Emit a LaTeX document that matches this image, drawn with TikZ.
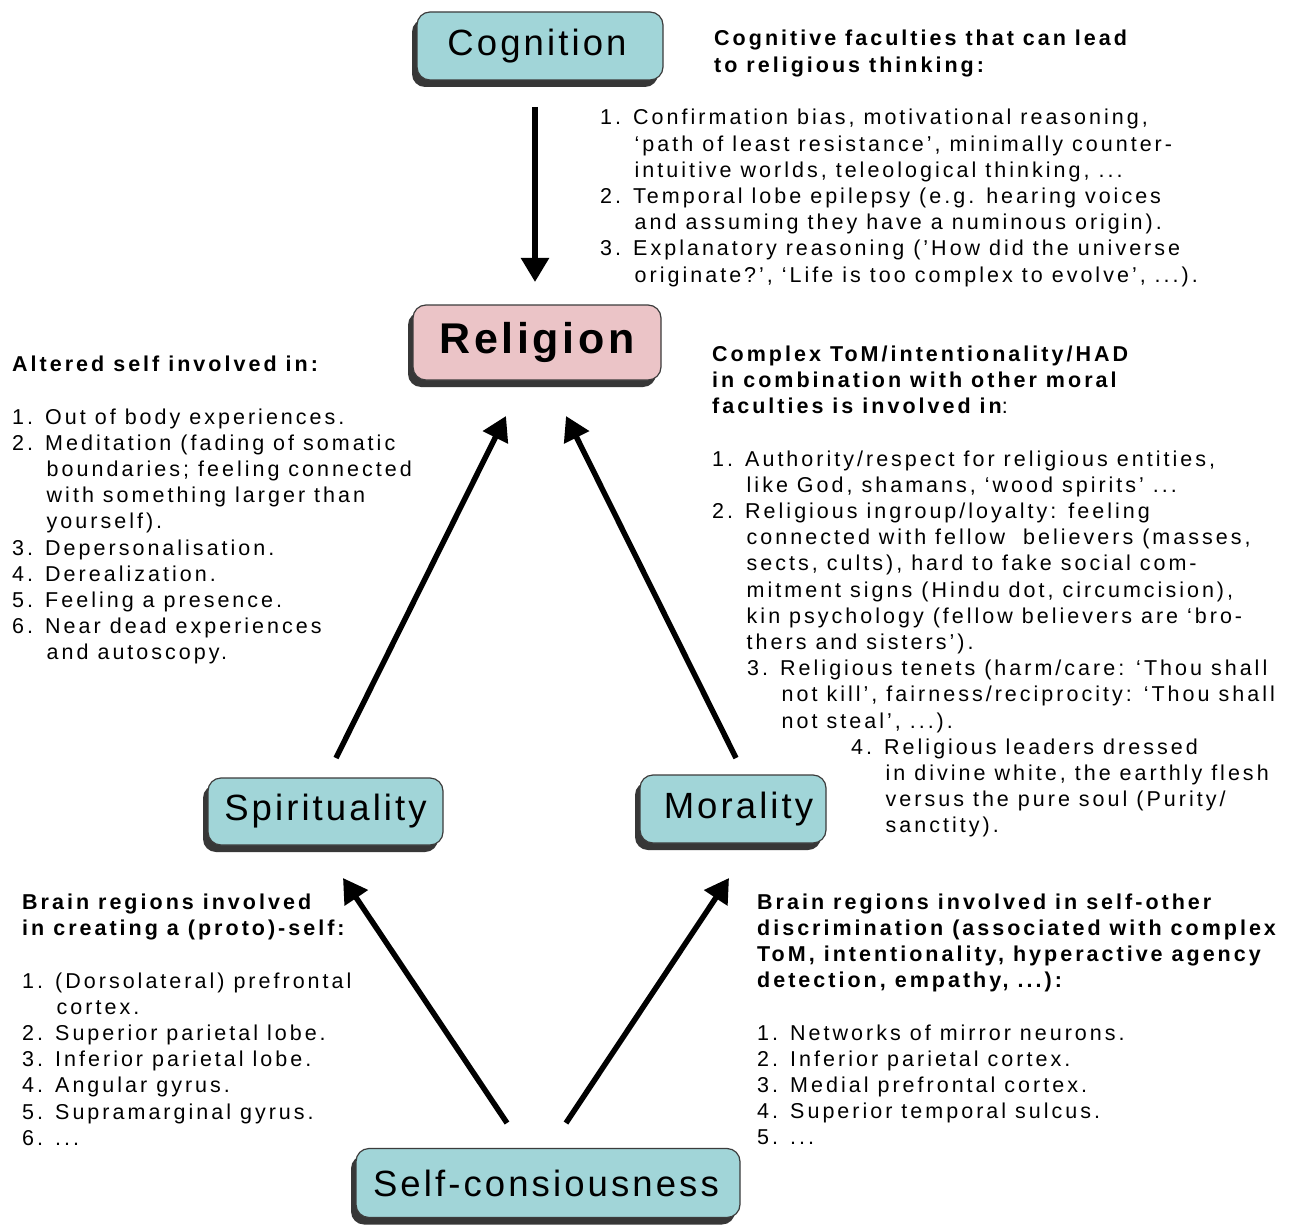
\documentclass[tikz,border=0pt]{standalone}
\usepackage{fontspec}
\setmainfont{Liberation Sans}
\newfontfamily\txtfont[LetterSpace=14]{Liberation Sans}
\newfontfamily\boxfont[LetterSpace=8.5]{Liberation Sans}
\usetikzlibrary{arrows.meta,shadows}

\definecolor{boxteal}{RGB}{161,213,216}
\definecolor{boxpink}{RGB}{235,196,199}
\definecolor{boxline}{RGB}{60,60,60}
\definecolor{shade}{RGB}{55,55,55}

\newcommand\tline[1]{\hbox{#1}}
\newcommand\itm[3][0pt]{\hbox{\hskip#1\hbox to 33pt{#2\hfil}#3}}
\newcommand\cnt[2][0pt]{\hbox{\hskip#1\hskip34.5pt#2}}
\newcommand\blk[1]{\vtop{\baselineskip=26.2pt\lineskiplimit=-50pt#1}}

\tikzset{
  box/.style={draw=boxline, line width=1.2pt, rounded corners=13pt, fill=boxteal,
    drop shadow={shadow xshift=-5pt, shadow yshift=-7pt, fill=shade, opacity=1},
    font=\boxfont\fontsize{36.5pt}{40pt}\selectfont, inner sep=0pt},
  txt/.style={anchor=base west, inner sep=0pt, font=\txtfont\fontsize{21.5pt}{26.2pt}\selectfont},
  hd/.style={anchor=base west, inner sep=0pt, font=\txtfont\bfseries\fontsize{21.5pt}{26.2pt}\selectfont},
  arr/.style={line width=5.5pt, -{Triangle[width=27pt,length=24pt]}}
}

\begin{document}
\begin{tikzpicture}[x=1pt,y=-1pt]
\useasboundingbox (0,0) rectangle (1296,1225);
\fill[white] (0,0) rectangle (1296,1225);

% boxes
\node[box, minimum width=246pt, minimum height=68pt] (cog) at (540,46) {Cognition\kern6pt};
\node[box, fill=boxpink, minimum width=248pt, minimum height=75pt,
      font=\boxfont\bfseries\fontsize{43pt}{46pt}\selectfont] (rel) at (537,342.5) {Religion};
\node[box, minimum width=235pt, minimum height=67pt] (spir) at (325.5,811.5) {Spirituality};
\node[box, minimum width=186pt, minimum height=68pt] (mor) at (733,809) {\kern11pt Morality};
\node[box, minimum width=384pt, minimum height=69pt] (self) at (548,1183) {Self-consiousness\kern4pt};

% arrow end points
\coordinate (cogOut) at (535,107);  \coordinate (relTop) at (535,282);
\coordinate (spirOut) at (336,758); \coordinate (relLeft) at (506,416);
\coordinate (morOut) at (736,758);  \coordinate (relRight) at (566,416);
\coordinate (selfL) at (507,1123);  \coordinate (spirIn) at (343,878);
\coordinate (selfR) at (566,1123);  \coordinate (morIn) at (729,878);

\draw[arr] (cogOut) -- (relTop);
\draw[arr] (spirOut) -- (relLeft);
\draw[arr] (morOut) -- (relRight);
\draw[arr] (selfL) -- (spirIn);
\draw[arr] (selfR) -- (morIn);

% block A
\node[hd] (hA) at (714,46) {\blk{\tline{Cognitive faculties that can lead}\tline{to religious thinking:}}};
\node[txt] (lA) at (600,125) {\blk{
 \itm{1.}{Confirmation bias, motivational reasoning,}
 \cnt{‘path of least resistance’, minimally counter-}
 \cnt{intuitive worlds, teleological thinking, ...}
 \itm{2.}{Temporal lobe epilepsy (e.g. hearing voices}
 \cnt{and assuming they have a numinous origin).}
 \itm{3.}{Explanatory reasoning (’How did the universe}
 \cnt{originate?’, ‘Life is too complex to evolve’, ...).}
}};

% block B
\node[hd] (hB) at (12,371) {\blk{\tline{Altered self involved in:}}};
\node[txt] (lB) at (12,424) {\blk{
 \itm{1.}{Out of body experiences.}
 \itm{2.}{Meditation (fading of somatic}
 \cnt{boundaries; feeling connected}
 \cnt{with something larger than}
 \cnt{yourself).}
 \itm{3.}{Depersonalisation.}
 \itm{4.}{Derealization.}
 \itm{5.}{Feeling a presence.}
 \itm{6.}{Near dead experiences}
 \cnt{and autoscopy.}
}};

% block C
\node[hd] (hC) at (712,361) {\blk{\tline{Complex ToM/intentionality/HAD}\tline{in combination with other moral}\tline{faculties is involved in{\mdseries :}}}};
\node[txt] (lC) at (712,466) {\blk{
 \itm{1.}{Authority/respect for religious entities,}
 \cnt{like God, shamans, ‘wood spirits’ ...}
 \itm{2.}{Religious ingroup/loyalty: feeling}
 \cnt{connected with fellow \ believers (masses,}
 \cnt{sects, cults), hard to fake social com-}
 \cnt{mitment signs (Hindu dot, circumcision),}
 \cnt{kin psychology (fellow believers are ‘bro-}
 \cnt{thers and sisters’).}
 \itm[35pt]{3.}{Religious tenets (harm/care: ‘Thou shall}
 \cnt[35pt]{not kill’, fairness/reciprocity: ‘Thou shall}
 \cnt[35pt]{not steal’, ...).}
 \itm[139pt]{4.}{Religious leaders dressed}
 \cnt[139pt]{in divine white, the earthly flesh}
 \cnt[139pt]{versus the pure soul (Purity/}
 \cnt[139pt]{sanctity).}
}};

% block D
\node[hd] (hD) at (22,909) {\blk{\tline{Brain regions involved}\tline{in creating a (proto)-self:}}};
\node[txt] (lD) at (22,988) {\blk{
 \itm{1.}{(Dorsolateral) prefrontal}
 \cnt{cortex.}
 \itm{2.}{Superior parietal lobe.}
 \itm{3.}{Inferior parietal lobe.}
 \itm{4.}{Angular gyrus.}
 \itm{5.}{Supramarginal gyrus.}
 \itm{6.}{...}
}};

% block E
\node[hd] (hE) at (757,909) {\blk{\tline{Brain regions involved in self-other}\tline{discrimination (associated with complex}\tline{ToM, intentionality, hyperactive agency}\tline{detection, empathy, ...):}}};
\node[txt] (lE) at (757,1040) {\blk{
 \itm{1.}{Networks of mirror neurons.}
 \itm{2.}{Inferior parietal cortex.}
 \itm{3.}{Medial prefrontal cortex.}
 \itm{4.}{Superior temporal sulcus.}
 \itm{5.}{...}
}};
\end{tikzpicture}
\end{document}
